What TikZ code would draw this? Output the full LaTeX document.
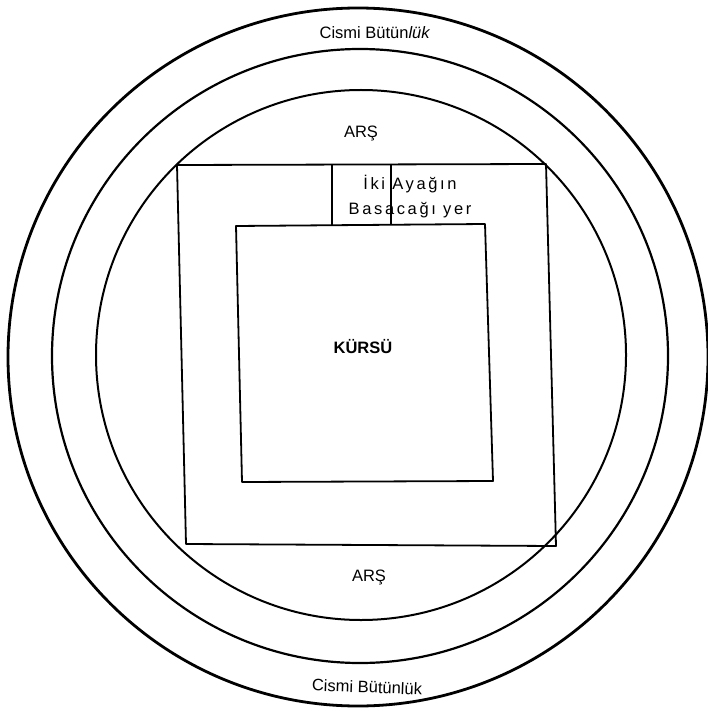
\documentclass[tikz,border=0pt]{standalone}
\usepackage{fontspec}
\setmainfont{Liberation Sans}
\usetikzlibrary{positioning}
\usetikzlibrary{calc}

\begin{document}
\begin{tikzpicture}[x=1pt, y=-1pt, line join=round,
		every node/.style={font=\fontsize{16.5}{25}\selectfont, inner sep=1pt},
		ring/.style={draw, line width=2.2pt},
		side/.style={draw, line width=1.8pt}]
			\useasboundingbox (0,0) rectangle (707,711);
			% three rings
			\draw[ring, line width=2.8pt] (358,357) ellipse [x radius=350, y radius=349];
			\draw[ring] (360,356) ellipse [x radius=308, y radius=307];
			\draw[ring, line width=2pt] (361,355) ellipse [x radius=265, y radius=265];
			% arş square and kürsü square
			\draw[side] (177,165) -- (546,164) -- (556,546) -- (186,544) -- cycle;
			\draw[side] (236,226) -- (485,224) -- (493,481) -- (242,482) -- cycle;
			% place of the two feet
			\draw[line width=1.2pt] (332,165) -- (332,225);
			\draw[line width=1.2pt] (391,164) -- (391,224);
			\node[align=center, font=\fontsize{16.5}{25}\selectfont\addfontfeature{LetterSpace=16}] (ayak) at (410,197) {İki Ayağın\\Basacağı yer};
			\node (kursu) at (363,347) {\textbf{KÜRSÜ}};
			\node (arsUst) at (361,133) {ARŞ};
			\node (arsAlt) at (369,577) {ARŞ};
			\node (cisimUst) at (375,33) {Cismi Bütün\textit{lük}};
			\node[rotate=-2] (cisimAlt) at (367,687) {Cismi Bütünlük};
		\end{tikzpicture}
\end{document}
